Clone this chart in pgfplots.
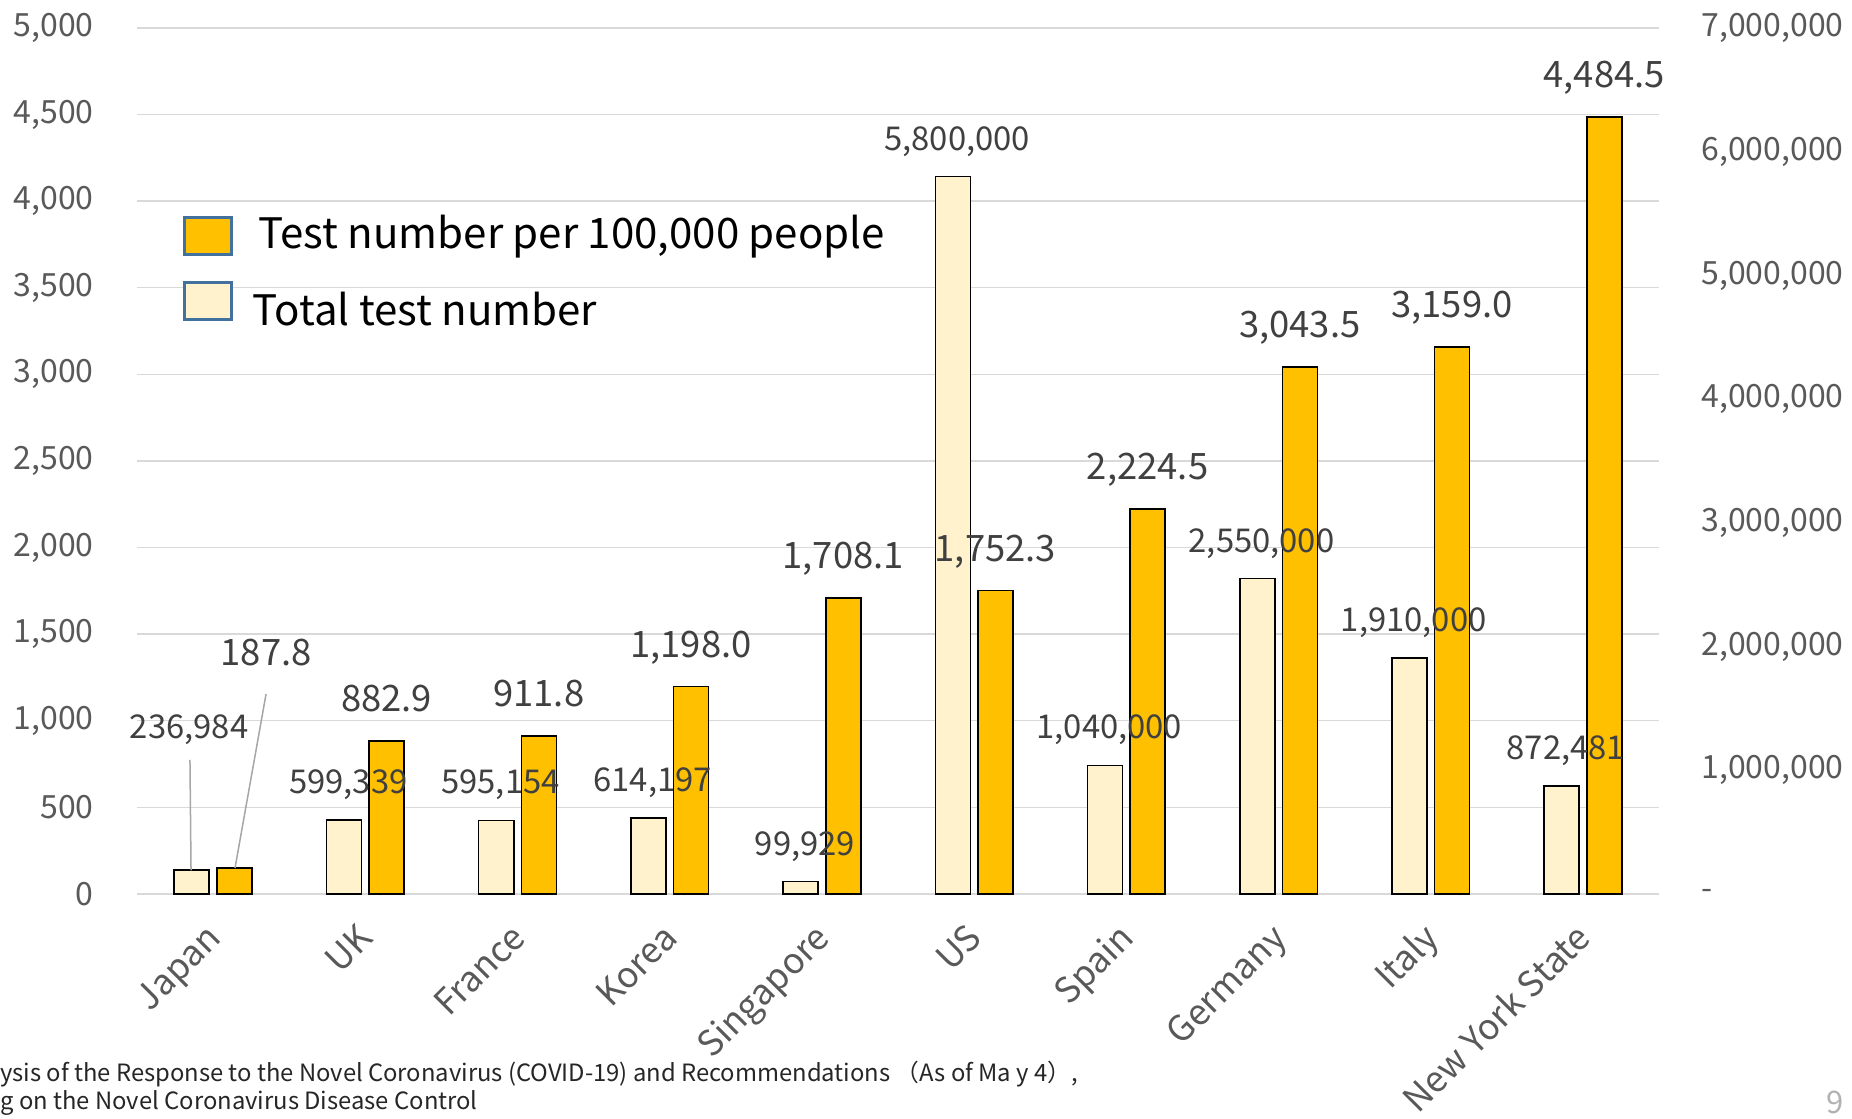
\documentclass[border=0pt]{standalone}
\usepackage{fontspec}
\setmainfont{Noto Sans CJK JP}
\usepackage{pgfplots}
\usepackage{pgfplotstable}
\pgfplotsset{compat=1.18}
\definecolor{orangebar}{HTML}{FFC000}
\definecolor{lightbar}{HTML}{FFF2CC}
\definecolor{gridc}{HTML}{D9D9D9}
\definecolor{tickc}{HTML}{595959}
\definecolor{labc}{HTML}{404040}
\definecolor{legb}{HTML}{41719C}
\definecolor{leadc}{HTML}{A6A6A6}

% Japan's bars are drawn shorter than their labels in the reference
\pgfplotstableread{
x per lab
0 150 {}
1 882.9 882.9
2 911.8 911.8
3 1198.0 {1,198.0}
4 1708.1 {1,708.1}
5 1752.3 {1,752.3}
6 2224.5 {2,224.5}
7 3043.5 {3,043.5}
8 3159.0 {3,159.0}
9 4484.5 {4,484.5}
}\pertable

\pgfplotstableread{
x total lab
0 192000 {}
1 599339 {599,339}
2 595154 {595,154}
3 614197 {614,197}
4 99929 {99,929}
5 5800000 {5,800,000}
6 1040000 {1,040,000}
7 2550000 {2,550,000}
8 1910000 {1,910,000}
9 872481 {872,481}
}\totaltable

\pgfplotsset{
  base/.style={
    at={(68.5bp,112.5bp)}, anchor=south west,
    scale only axis, width=761bp, height=433bp,
    xmin=-0.5, xmax=9.5,
    axis line style={draw=none}, tick style={draw=none},
    clip=false,
  },
}

\begin{document}
\begin{tikzpicture}
\useasboundingbox (0,0) rectangle (926bp,559.5bp);

% Left axis: per 100,000 bars, grid, x labels, legend
\begin{axis}[base,
  ymin=0, ymax=5000,
  ytick={0,500,...,5000},
  yticklabels={0,500,{1,000},{1,500},{2,000},{2,500},{3,000},{3,500},{4,000},{4,500},{5,000}},
  ymajorgrids, grid style={gridc, line width=0.7bp},
  yticklabel style={font=\fontsize{16bp}{19bp}\selectfont, text=tickc, inner sep=0pt, anchor=east, xshift=-21.5bp},
  xtick={0,...,9},
  xticklabels={Japan,UK,France,Korea,Singapore,US,Spain,Germany,Italy,New York State},
  xticklabel style={font=\fontsize{17.7bp}{20bp}\selectfont, text=tickc, inner sep=0pt, xshift=5bp, yshift=-23bp, anchor=base east, rotate=45},
  legend style={at={(rel axis cs:0.0302,0.784)}, anchor=north west, draw=none, fill=none, inner sep=0pt,
    font=\fontsize{21bp}{25bp}\selectfont, row sep=12.5bp,
    nodes={inner sep=0pt, text=black, text height=16.5bp, text depth=4bp}},
  legend cell align=left,
  legend image code/.code={\draw[#1] (0bp,-9.25bp) rectangle (23.5bp,9.25bp); \path[draw=none, fill=none] (0bp,0bp) -- (34bp,0bp);},
]
\addplot[ybar, bar width=0.23, bar shift=0.14, fill=orangebar, draw=black, line width=0.8bp, forget plot]
  table[x=x, y=per]{\pertable};
\addlegendimage{fill=orangebar, draw=legb, line width=1.2bp}
\addlegendentry{Test number per 100,000 people}
\addlegendimage{fill=lightbar, draw=legb, line width=1.2bp}
\addlegendentry[yshift=-6bp, xshift=-3bp]{Total test number}
\end{axis}

% Right axis: total tests
\begin{axis}[base,
  ymin=0, ymax=7000000,
  scaled y ticks=false,
  ytick={0,1000000,...,7000000},
  yticklabels={{-},{1,000,000},{2,000,000},{3,000,000},{4,000,000},{5,000,000},{6,000,000},{7,000,000}},
  yticklabel pos=right,
  yticklabel style={font=\fontsize{16bp}{19bp}\selectfont, text=tickc, inner sep=0pt, anchor=west, xshift=21bp},
  xtick=\empty,
]
\addplot[ybar, bar width=0.23, bar shift=-0.14, fill=lightbar, draw=black, line width=0.8bp,
  point meta=explicit symbolic, nodes near coords,
  every node near coord/.append style={font=\fontsize{16.4bp}{19bp}\selectfont, text=labc, inner sep=0pt, anchor=south, text depth=0pt, xshift=-8.5bp, yshift=12.8bp}]
  table[x=x, y=total, meta=lab]{\totaltable};
\end{axis}

% Overlay: per 100,000 labels and Japan callouts
\begin{axis}[base, hide axis, ymin=0, ymax=5000]
\addplot[ybar, bar width=0.23, bar shift=0.14, draw=none, fill=none,
  point meta=explicit symbolic, nodes near coords,
  every node near coord/.append style={font=\fontsize{18.2bp}{21bp}\selectfont, text=labc, inner sep=0pt, anchor=south, text depth=0pt, xshift=10.65bp, yshift=14.5bp}]
  table[x=x, y=per, meta=lab]{\pertable};
\draw[leadc, line width=0.75bp] (axis cs:-0.152,774) -- (axis cs:-0.145,137);
\draw[leadc, line width=0.75bp] (axis cs:0.348,1155) -- (axis cs:0.144,150);
\node[font=\fontsize{16.4bp}{19bp}\selectfont, text=labc, inner sep=0pt, anchor=base] at (axis cs:-0.158,898) {236,984};
\node[font=\fontsize{18.2bp}{21bp}\selectfont, text=labc, inner sep=0pt, anchor=base] at (axis cs:0.348,1322) {187.8};
\end{axis}

% Footer
\node[anchor=base west, inner sep=0pt, font=\fontsize{11.9bp}{13bp}\selectfont, text=black!85] at (0bp,19bp)
  {ysis of the Response to the Novel Coronavirus (COVID-19) and Recommendations （As of Ma y 4）,};
\node[anchor=base west, inner sep=0pt, font=\fontsize{11.9bp}{13bp}\selectfont, text=black!85] at (0bp,5bp)
  {g on the Novel Coronavirus Disease Control};
\node[anchor=base east, inner sep=0pt, font=\fontsize{15.5bp}{17bp}\selectfont, text=black!30] at (922bp,3bp) {9};
\end{tikzpicture}
\end{document}
